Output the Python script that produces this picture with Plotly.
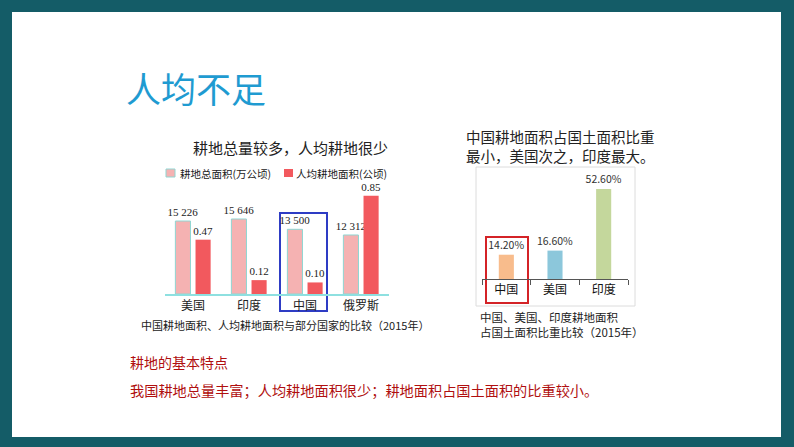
import plotly.graph_objects as go

W, H = 794, 447

# ---- data ----
left_categories = ["美国", "印度", "中国", "俄罗斯"]
total_area = [15226, 15646, 13500, 12312]          # 耕地总面积(万公顷)
per_capita = [0.47, 0.12, 0.10, 0.85]              # 人均耕地面积(公顷)
left_series_names = ["耕地总面积(万公顷)", "人均耕地面积(公顷)"]

right_categories = ["中国", "美国", "印度"]
land_share = [14.20, 16.60, 52.60]                 # 耕地面积占国土面积比重 %

def px(x):
    return x / W

def py(y):
    return 1 - y / H

CJK = "Noto Sans CJK SC"
SERIF = "Liberation Serif"

PINK = "#F5B2B2"
PINK_EDGE = "#8FD6D2"
RED = "#F2595E"
RIGHT_COLORS = ["#F8BC8C", "#8CC7DB", "#C4D79C"]

fig = go.Figure()

# left chart: total area (pink)
fig.add_trace(go.Bar(
    x=left_categories, y=total_area, name=left_series_names[0],
    xaxis="x", yaxis="y",
    width=0.27, offset=-0.315,
    marker=dict(color=PINK, line=dict(color=PINK_EDGE, width=1)),
    text=[f"{v:,}".replace(",", " ") for v in total_area],
    textposition="outside", cliponaxis=False, constraintext="none",
    textfont=dict(family=SERIF, size=11, color="#222"),
    showlegend=False,
))
# left chart: per-capita (red)
fig.add_trace(go.Bar(
    x=left_categories, y=per_capita, name=left_series_names[1],
    xaxis="x", yaxis="y2",
    width=0.27, offset=0.045,
    marker=dict(color=RED, line=dict(width=0)),
    text=[f"{v:.2f}" for v in per_capita],
    textposition="outside", cliponaxis=False, constraintext="none",
    textfont=dict(family=SERIF, size=11, color="#222"),
    showlegend=False,
))
# right chart
fig.add_trace(go.Bar(
    x=right_categories, y=land_share,
    xaxis="x2", yaxis="y3",
    width=0.31,
    marker=dict(color=RIGHT_COLORS, line=dict(width=0)),
    text=[f"{v:.2f}%" for v in land_share],
    textposition="outside", cliponaxis=False, constraintext="none",
    textfont=dict(family=CJK, size=10.5, color="#333"),
    showlegend=False,
))

fig.update_layout(
    width=W, height=H,
    margin=dict(l=0, r=0, t=0, b=0),
    paper_bgcolor="white", plot_bgcolor="rgba(0,0,0,0)",
    showlegend=False,
    xaxis=dict(domain=[px(165), px(389)], anchor="y",
               showline=True, linecolor="#8EE0E0", linewidth=1.5,
               showgrid=False, zeroline=False, ticks="",
               tickfont=dict(family=CJK, size=12, color="#222"),
               fixedrange=True),
    yaxis=dict(domain=[py(294), py(190)], range=[0, 21700],
               visible=False, fixedrange=True),
    yaxis2=dict(overlaying="y", range=[0, 0.90],
                visible=False, fixedrange=True),
    xaxis2=dict(domain=[px(482), px(628)], anchor="y3",
                showline=True, linecolor="#555", linewidth=1,
                showgrid=False, zeroline=False,
                ticks="outside", tickson="boundaries", ticklen=5,
                tickcolor="#555",
                tickfont=dict(family=CJK, size=12, color="#111"),
                fixedrange=True),
    yaxis3=dict(domain=[py(279), py(175)], range=[0, 60.8],
                visible=False, fixedrange=True),
)

shapes = []
BORDER = "#145C67"
# frame
for x0, y0, x1, y1 in [(0, 0, W, 12), (0, 0, 12, H), (781, 0, W, H), (0, 437, W, H)]:
    shapes.append(dict(type="rect", xref="paper", yref="paper",
                       x0=px(x0), x1=px(x1), y0=py(y1), y1=py(y0),
                       fillcolor=BORDER, line=dict(width=0), layer="above"))
# right chart box
shapes.append(dict(type="rect", xref="paper", yref="paper",
                   x0=px(476), x1=px(635), y0=py(306), y1=py(167),
                   line=dict(color="#DCDCDC", width=1), layer="below"))
# highlight boxes
shapes.append(dict(type="rect", xref="paper", yref="paper",
                   x0=px(280), x1=px(327), y0=py(311), y1=py(213),
                   line=dict(color="#2E3CC4", width=2), layer="below"))
shapes.append(dict(type="rect", xref="paper", yref="paper",
                   x0=px(486), x1=px(528), y0=py(303), y1=py(237),
                   line=dict(color="#D42327", width=2), layer="below"))
# legend squares
shapes.append(dict(type="rect", xref="paper", yref="paper",
                   x0=px(166), x1=px(175), y0=py(177), y1=py(169),
                   fillcolor=PINK, line=dict(color=PINK_EDGE, width=1)))
shapes.append(dict(type="rect", xref="paper", yref="paper",
                   x0=px(284), x1=px(293), y0=py(177), y1=py(169),
                   fillcolor=RED, line=dict(width=0)))
fig.update_layout(shapes=shapes)

def ann(text, x, y, size, color="#222", family=CJK, xanchor="left"):
    return dict(text=text, x=px(x), y=py(y), xref="paper", yref="paper",
                xanchor=xanchor, yanchor="middle", showarrow=False,
                align="left",
                font=dict(family=family, size=size, color=color))

annotations = [
    ann("人均不足", 124, 88, 35, color="#1F9BD1"),
    ann("耕地总量较多，人均耕地很少", 290, 147, 15, xanchor="center"),
    ann(left_series_names[0], 178, 173, 10.5),
    ann(left_series_names[1], 294, 173, 10.5),
    ann("中国耕地面积、人均耕地面积与部分国家的比较（2015年）", 139, 325, 11),
    ann("中国耕地面积占国土面积比重<br>最小，美国次之，印度最大。", 464, 146, 14.5),
    ann("中国、美国、印度耕地面积<br>占国土面积比重比较（2015年）", 478, 324, 11.5),
    ann("耕地的基本特点", 128, 362, 14, color="#B00F0F"),
    ann("我国耕地总量丰富；人均耕地面积很少；耕地面积占国土面积的比重较小。",
        128, 390, 14.2, color="#B00F0F"),
]
fig.update_layout(annotations=annotations)

fig.write_html("out.html")
